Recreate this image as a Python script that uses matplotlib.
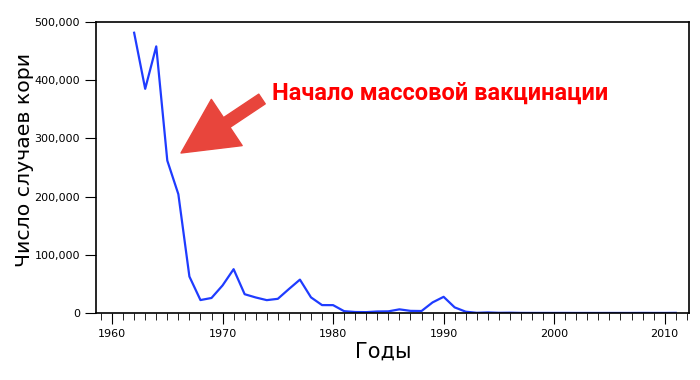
import numpy as np
import matplotlib
matplotlib.use('Agg')
import matplotlib.pyplot as plt
from matplotlib.ticker import FuncFormatter, MultipleLocator

# measles cases per year
years = list(range(1962, 2012))
cases = [481530, 385156, 458083, 261904, 204136, 62705, 22231, 25826, 47351, 75290,
         32275, 26690, 22094, 24374, 41126, 57345, 26871, 13597, 13506, 3124,
         1714, 1497, 2587, 2822, 6282, 3655, 3396, 18193, 27786, 9643,
         2237, 312, 963, 309, 508, 138, 100, 100, 86, 116,
         44, 56, 37, 66, 55, 43, 140, 71, 63, 220]

note = 'Начало массовой вакцинации'

fig = plt.figure(figsize=(7, 3.8), dpi=100)
ax = fig.add_axes([96/700, 1 - 313/380, (689-96)/700, (313-22)/380])

ax.plot(years, cases, color='#1f3cff', lw=1.6)

ax.set_xlim(1958.55, 2012.2)
ax.set_ylim(0, 500000)
ax.xaxis.set_major_locator(MultipleLocator(10))
ax.xaxis.set_minor_locator(MultipleLocator(1))
ax.yaxis.set_major_locator(MultipleLocator(100000))
ax.yaxis.set_major_formatter(FuncFormatter(lambda v, p: f'{int(v):,}'))
ax.tick_params(axis='both', labelsize=8, color='black', direction='out')
ax.tick_params(axis='x', which='major', length=8)
ax.tick_params(axis='x', which='minor', length=5)
ax.tick_params(axis='y', length=8)
for s in ax.spines.values():
    s.set_linewidth(1.2)

ax.set_xlabel('Годы', fontsize=15)
ax.xaxis.set_label_coords(0.484, -0.1)
ax.set_ylabel('Число случаев кори', fontsize=14.7, va='center')
ax.yaxis.set_label_coords(-0.121, 0.526)

fig.text(272/700, 1 - 93/380, note, color='#ff0000', fontsize=17,
         fontweight='bold', family=['Roboto', 'DejaVu Sans'], va='center', ha='left')
ax.annotate('', xy=(181, 380-153), xycoords='figure pixels',
            xytext=(262, 380-99), textcoords='figure pixels',
            arrowprops=dict(arrowstyle='simple,head_length=1.98,head_width=2.0,tail_width=0.42',
                            mutation_scale=20, color='#e8453c', shrinkA=0, shrinkB=0))

fig.savefig('out.png', dpi=100)
